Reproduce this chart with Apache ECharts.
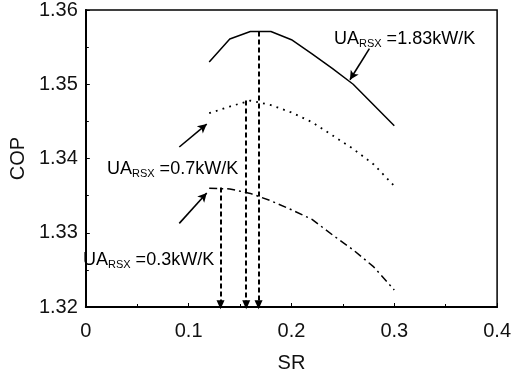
<!DOCTYPE html>
<html>
<head>
<meta charset="utf-8">
<script src="https://cdn.jsdelivr.net/npm/echarts@6/dist/echarts.min.js"></script>
<style>
  html, body { margin: 0; padding: 0; background: #fff; }
  #chart { width: 514px; height: 378px; }
</style>
</head>
<body>
<div id="chart"></div>
<script>
// SR sample points shared by the three curves
const srValues = [0.12, 0.14, 0.16, 0.18, 0.20, 0.22, 0.24, 0.26, 0.28, 0.30];
// COP for UA_RSX = 1.83, 0.7, 0.3 kW/K
const copUa183 = [1.3530, 1.3561, 1.3571, 1.3571, 1.3560, 1.3541, 1.3521, 1.3500, 1.3472, 1.3444];
const copUa07 = [1.3461, 1.3470, 1.3478, 1.3472, 1.3462, 1.3449, 1.3431, 1.3413, 1.3392, 1.3363];
const copUa03 = [1.3360, 1.3359, 1.3353, 1.3343, 1.3331, 1.3318, 1.3297, 1.3277, 1.3254, 1.3223];

// optimum SR drop lines: [sr, cop at peak]
const optimum183 = [0.168, 1.3571];
const optimum07 = [0.156, 1.3478];
const optimum03 = [0.131, 1.3361];

// label arrows: [from, to]
const arrow183 = [[0.2758, 1.3548], [0.2569, 1.3506]];
const arrow07 = [[0.0909, 1.34155], [0.1176, 1.34464]];
const arrow03 = [[0.0909, 1.33126], [0.1176, 1.33536]];

const xTicks = [0, 0.1, 0.2, 0.3, 0.4];
const yTicks = [1.32, 1.33, 1.34, 1.35, 1.36];

const FONT = "'Liberation Sans', Arial, sans-serif";
const INK = "#111";

const pairs = (ys) => srValues.map((x, i) => [x, ys[i]]);

// dashed drop line from a curve's optimum down to the SR axis
const dropLine = (pt) => [
  { coord: pt, symbol: "none", lineStyle: { color: "#000", width: 2, type: [5, 3] } },
  { coord: [pt[0], yTicks[0] + 0.0003], symbol: "triangle", symbolSize: [8, 9] },
];
// solid pointer from a label to its curve
const pointer = (a) => [
  { coord: a[0], symbol: "none", lineStyle: { color: "#000", width: 1.6, type: "solid" } },
  { coord: a[1], symbol: "arrow", symbolSize: [7, 9] },
];

const rich = {
  a: { fontSize: 18, fontFamily: FONT, color: INK, lineHeight: 20 },
  s: { fontSize: 11, fontFamily: FONT, color: INK, lineHeight: 11, verticalAlign: "bottom" },
};
const uaText = (val, x, y) => ({
  type: "text",
  x, y,
  silent: true,
  style: {
    text: `{a|UA}{s|RSX}{a| =${val}kW/K}`,
    rich,
    verticalAlign: "middle",
    align: "left",
  },
});

const chart = echarts.init(document.getElementById("chart"), null, { renderer: "canvas" });

chart.setOption({
  animation: false,
  backgroundColor: "#fff",
  grid: {
    left: 78, right: 13, top: 9, bottom: 67,
    show: true, borderColor: "#000", borderWidth: 1.5,
  },
  xAxis: {
    type: "value",
    min: xTicks[0],
    max: xTicks[xTicks.length - 1],
    interval: 0.1,
    name: "SR",
    nameLocation: "middle",
    nameGap: 46,
    nameTextStyle: { fontSize: 20, fontFamily: FONT, color: INK },
    axisLine: { show: true, lineStyle: { color: "#000", width: 2 } },
    axisTick: { show: true, inside: true, length: 4, lineStyle: { color: "#000" } },
    minorTick: { show: true, splitNumber: 2, length: 3, lineStyle: { color: "#000" } },
    splitLine: { show: false },
    axisLabel: {
      fontSize: 20, fontFamily: FONT, color: INK, margin: 14,
      formatter: (v) => (Math.abs(v) < 1e-9 ? "0" : v.toFixed(1)),
    },
  },
  yAxis: {
    type: "value",
    min: yTicks[0],
    max: yTicks[yTicks.length - 1],
    interval: 0.01,
    name: "COP",
    nameLocation: "middle",
    nameGap: 52,
    nameTextStyle: { fontSize: 20, fontFamily: FONT, color: INK },
    axisLine: { show: true, lineStyle: { color: "#000", width: 2 } },
    axisTick: { show: true, inside: true, length: 4, lineStyle: { color: "#000" } },
    minorTick: { show: true, splitNumber: 2, length: 3, lineStyle: { color: "#000" } },
    splitLine: { show: false },
    axisLabel: {
      fontSize: 20, fontFamily: FONT, color: INK, margin: 8,
      formatter: (v) => v.toFixed(2),
    },
  },
  series: [
    {
      name: "UA 1.83",
      type: "line",
      data: pairs(copUa183),
      symbol: "none",
      lineStyle: { color: "#000", width: 1.5, type: "solid" },
      markLine: {
        silent: true,
        label: { show: false },
        lineStyle: { color: "#000" },
        data: [
          dropLine(optimum183),
          dropLine(optimum07),
          dropLine(optimum03),
          pointer(arrow183),
          pointer(arrow07),
          pointer(arrow03),
        ],
      },
    },
    {
      name: "UA 0.7",
      type: "line",
      data: pairs(copUa07),
      symbol: "none",
      lineStyle: { color: "#000", width: 1.8, type: [1.8, 5.2] },
    },
    {
      name: "UA 0.3",
      type: "line",
      data: pairs(copUa03),
      symbol: "none",
      lineStyle: { color: "#000", width: 1.5, type: [8, 4, 2, 4] },
    },
  ],
  graphic: [
    uaText("1.83", 334, 39),
    uaText("0.7", 107, 169),
    uaText("0.3", 83, 260),
  ],
});
</script>
</body>
</html>
